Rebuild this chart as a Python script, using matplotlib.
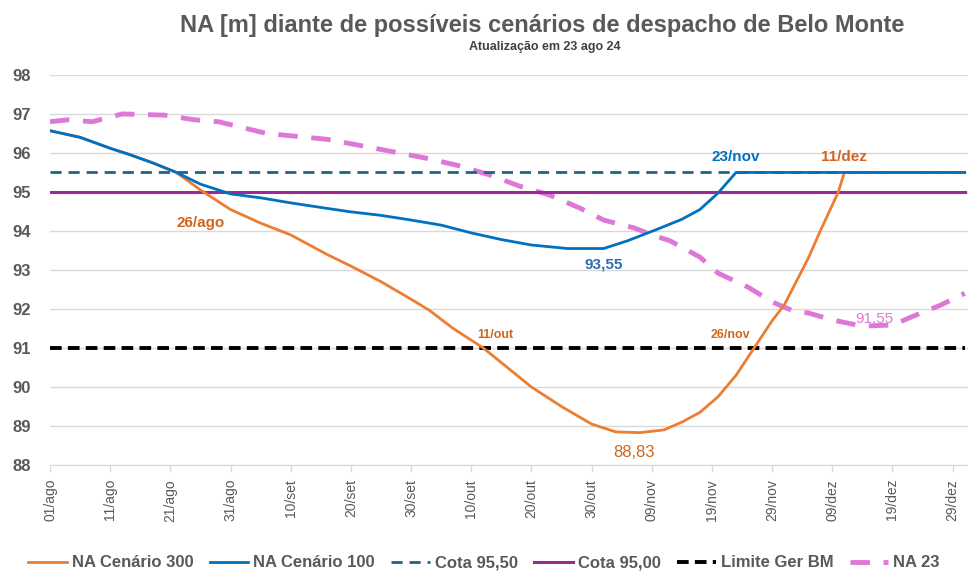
import numpy as np
import matplotlib
matplotlib.use("Agg")
import matplotlib.pyplot as plt
import matplotlib.dates as mdates
from matplotlib.ticker import FixedLocator

plt.rcParams['font.family'] = ['Liberation Sans', 'DejaVu Sans']

start = np.datetime64('2024-08-01')

# days since 01/ago and level [m]
c100_days = [0, 5, 10, 13, 17, 21, 25, 30, 35, 40, 46, 50, 55, 60, 65, 70, 75, 80, 86, 92, 96, 101, 105, 108, 111, 114, 152]
c100_vals = [96.57, 96.4, 96.12, 95.97, 95.75, 95.5, 95.2, 94.95, 94.85, 94.72, 94.58, 94.49, 94.4, 94.28, 94.15,
             93.95, 93.78, 93.64, 93.55, 93.55, 93.75, 94.05, 94.3, 94.55, 94.97, 95.5, 95.5]

c300_days = [0, 5, 10, 13, 17, 21, 25, 30, 35, 40, 46, 50, 55, 60, 63, 67, 72, 76, 80, 85, 90, 94, 98, 102, 105,
             108, 111, 114, 117, 120, 122, 126, 128, 131, 132, 152]
c300_vals = [96.57, 96.4, 96.12, 95.97, 95.75, 95.5, 95.05, 94.55, 94.2, 93.9, 93.4, 93.1, 92.7, 92.25, 91.97,
             91.5, 91.0, 90.5, 90.0, 89.5, 89.05, 88.85, 88.83, 88.9, 89.1, 89.35, 89.75, 90.3, 91.0, 91.7,
             92.1, 93.3, 94.0, 95.0, 95.5, 95.5]

na23_days = [0, 3, 7, 12, 19, 24, 28, 36, 46, 53, 58, 63, 68, 73, 78, 83, 88, 92, 97, 101, 103, 108, 111, 116,
             120, 124, 126, 130, 135, 140, 144, 148, 152]
na23_vals = [96.8, 96.85, 96.8, 97.0, 96.97, 96.85, 96.8, 96.5, 96.35, 96.15, 96.0, 95.85, 95.67, 95.44, 95.15,
             94.92, 94.59, 94.28, 94.08, 93.85, 93.75, 93.33, 92.92, 92.56, 92.18, 91.92, 91.9, 91.72, 91.56,
             91.59, 91.85, 92.1, 92.4]

cota_955 = 95.5
cota_950 = 95.0
limite_ger = 91.0

tick_days = list(range(0, 153, 10))
tick_labels = ['01/ago', '11/ago', '21/ago', '31/ago', '10/set', '20/set', '30/set', '10/out', '20/out',
               '30/out', '09/nov', '19/nov', '29/nov', '09/dez', '19/dez', '29/dez']


def to_dates(days):
    return start + np.array(days).astype('timedelta64[D]')


gray = '#595959'
orange = '#ED7D31'
blue = '#0070C0'
teal = '#1F6488'
purple = '#9B2A94'
pink = '#DE78D6'

fig = plt.figure(figsize=(9.68, 5.72), dpi=100)
ax = fig.add_axes([0.0517, 0.187, 0.948, 0.682])

full = to_dates([0, 152])
ax.plot(to_dates(c300_days), c300_vals, color=orange, lw=2.0, label='NA Cenário 300', zorder=5)
ax.plot(to_dates(c100_days), c100_vals, color=blue, lw=2.0, label='NA Cenário 100', zorder=6)
ax.plot(full, [cota_955] * 2, color=teal, lw=2, ls=(0, (4, 2.5)), label='Cota 95,50', zorder=4)
ax.plot(full, [cota_950] * 2, color=purple, lw=2.2, label='Cota 95,00', zorder=4)
ax.plot(full, [limite_ger] * 2, color='black', lw=2.8, ls=(0, (3, 1.6)), label='Limite Ger BM', zorder=4)
ax.plot(to_dates(na23_days), na23_vals, color=pink, lw=3.5, ls=(0, (4, 2.8)), label='NA 23', zorder=3)

ax.set_ylim(88, 98)
ax.set_yticks(range(88, 99))
ax.set_xlim(start, start + np.timedelta64(152, 'D') + np.timedelta64(12, 'h'))
ax.xaxis.set_major_locator(FixedLocator(mdates.date2num(to_dates(tick_days))))
ax.set_xticklabels(tick_labels, rotation=90, fontsize=10, color=gray)
for lbl in ax.get_yticklabels():
    lbl.set_fontsize(12)
    lbl.set_fontweight('bold')
    lbl.set_color(gray)

ax.grid(axis='y', color='#D9D9D9', lw=1)
ax.set_axisbelow(True)
for s in ['top', 'right', 'left']:
    ax.spines[s].set_visible(False)
ax.spines['bottom'].set_color('#D9D9D9')
ax.tick_params(axis='x', colors='#D9D9D9', labelcolor=gray, length=5, width=1, pad=5)
ax.tick_params(axis='y', length=0, pad=14)

# annotations
ax.text(to_dates([25])[0], 94.1, '26/ago', color='#D0651E', fontsize=11, fontweight='bold', ha='center')
ax.text(to_dates([92])[0], 93.05, '93,55', color='#2E6DB4', fontsize=11, fontweight='bold', ha='center')
ax.text(to_dates([114])[0], 95.8, '23/nov', color=blue, fontsize=11, fontweight='bold', ha='center')
ax.text(to_dates([132])[0], 95.8, '11/dez', color='#D0651E', fontsize=11, fontweight='bold', ha='center')
ax.text(to_dates([74])[0], 91.25, '11/out', color='#D0651E', fontsize=9, fontweight='bold', ha='center')
ax.text(to_dates([113])[0], 91.25, '26/nov', color='#D0651E', fontsize=9, fontweight='bold', ha='center')
ax.text(to_dates([137])[0], 91.65, '91,55', color=pink, fontsize=11, ha='center')
ax.text(to_dates([97])[0], 88.2, '88,83', color='#D0651E', fontsize=12, ha='center')

fig.text(0.56, 0.955, 'NA [m] diante de possíveis cenários de despacho de Belo Monte', ha='center', va='center',
         fontsize=17, fontweight='bold', color=gray)
fig.text(0.563, 0.918, 'Atualização em 23 ago 24', ha='center', va='center', fontsize=9,
         fontweight='bold', color='#404040')

leg = fig.legend(loc='center', bbox_to_anchor=(0.5, 0.016), ncol=6, frameon=False, fontsize=12,
                 handlelength=2.3, columnspacing=1.0, handletextpad=0.3)
for t in leg.get_texts():
    t.set_color(gray)
    t.set_fontweight('bold')

fig.savefig('out.png', dpi=100)
